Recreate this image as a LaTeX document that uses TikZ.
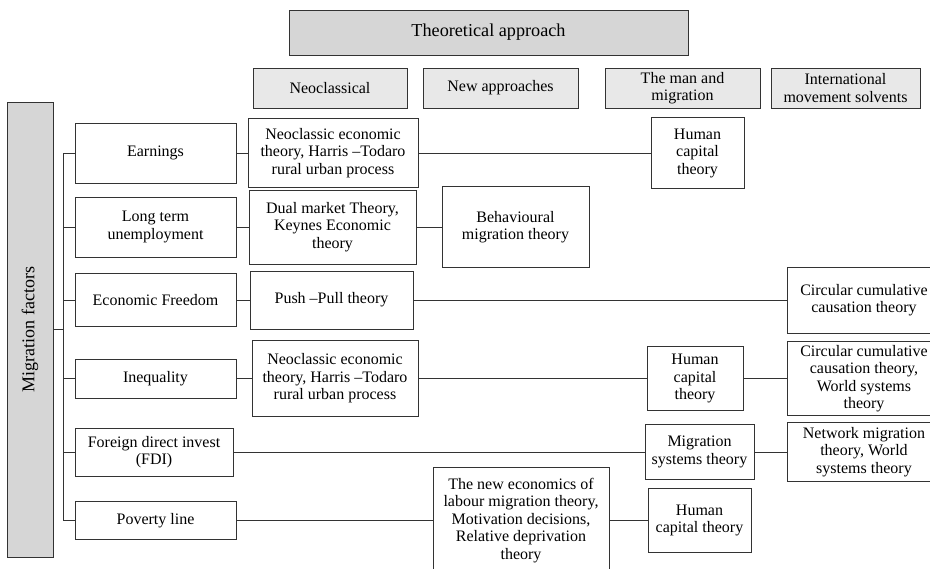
\documentclass[tikz,border=0pt]{standalone}
\usepackage{fontspec}
\setmainfont{Liberation Serif}
\begin{document}
\begin{tikzpicture}[x=1pt,y=-1pt]
\tikzset{
  bx/.style={draw=black!80, line width=0.8pt, fill=white, align=center, inner sep=1pt, text=black, font=\fontsize{16}{17.5}\selectfont},
  hd/.style={bx, fill=gray!18},
  dk/.style={bx, fill=gray!32},
  ln/.style={draw=black!80, line width=0.8pt}
}
\useasboundingbox (0,0) rectangle (930,569);
% headers
\node[dk, minimum width=399pt, minimum height=45pt, font=\fontsize{18.2}{20}\selectfont] (theo) at (488.5,32.5) {Theoretical approach};
\node[hd, minimum width=154pt, minimum height=40pt] (h1) at (330,88) {Neoclassical};
\node[hd, minimum width=155pt, minimum height=40pt] (h2) at (500.5,88) {New approaches};
\node[hd, minimum width=155pt, minimum height=40pt] (h3) at (682.5,88) {The man and\\migration};
\node[hd, minimum width=149pt, minimum height=40pt] (h4) at (845.5,88) {International\\movement solvents};
% left
\node[dk, rotate=90, minimum width=455pt, minimum height=46pt, font=\fontsize{18}{20}\selectfont] (mf) at (30,329.5) {Migration factors};
\node[bx, minimum width=161pt, minimum height=60pt] (earn) at (155.5,153) {Earnings};
\node[bx, minimum width=161pt, minimum height=60pt] (lte) at (155.5,227) {Long term\\unemployment};
\node[bx, minimum width=161pt, minimum height=53pt] (ef) at (155.5,300) {Economic Freedom};
\node[bx, minimum width=161pt, minimum height=39pt] (ineq) at (155.5,378.5) {Inequality};
\node[bx, minimum width=158pt, minimum height=48pt] (fdi) at (154,452) {Foreign direct invest\\(FDI)};
\node[bx, minimum width=161pt, minimum height=38pt] (pov) at (155.5,520.5) {Poverty line};
% neoclassical column
\node[bx, minimum width=170pt, minimum height=69pt] (neo1) at (333,153) {Neoclassic economic\\theory, Harris --Todaro\\rural urban process};
\node[bx, minimum width=167pt, minimum height=74pt] (dual) at (332.5,227) {Dual market Theory,\\Keynes Economic\\theory};
\node[bx, minimum width=163pt, minimum height=58pt] (push) at (331.5,300) {Push --Pull theory};
\node[bx, minimum width=166pt, minimum height=76pt] (neo2) at (335,378.5) {Neoclassic economic\\theory, Harris --Todaro\\rural urban process};
% new approaches column
\node[bx, minimum width=147pt, minimum height=81pt] (beh) at (515.5,227) {Behavioural\\migration theory};
\node[bx, minimum width=176pt, minimum height=106pt] (neweco) at (521,520.5) {The new economics of\\labour migration theory,\\Motivation decisions,\\Relative deprivation\\theory};
% man and migration column
\node[bx, minimum width=93pt, minimum height=71pt] (hc1) at (697.5,153) {Human\\capital\\theory};
\node[bx, minimum width=96pt, minimum height=64pt] (hc2) at (695,378.5) {Human\\capital\\theory};
\node[bx, minimum width=109pt, minimum height=55pt] (mst) at (699.5,452) {Migration\\systems theory};
\node[bx, minimum width=103pt, minimum height=64pt] (hc3) at (699.5,520.5) {Human\\capital theory};
% international column
\node[bx, minimum width=154pt, minimum height=66pt] (circ1) at (864,300) {Circular cumulative\\causation theory};
\node[bx, minimum width=154pt, minimum height=74pt] (circ2) at (864,378.5) {Circular cumulative\\causation theory,\\World systems\\theory};
\node[bx, minimum width=154pt, minimum height=59pt] (net) at (864,452) {Network migration\\theory, World\\systems theory};
% trunk
\coordinate (ttop) at (63,153);
\coordinate (tbot) at (63,520.5);
\draw[ln] (mf.south) -- (mf.south -| ttop);
\draw[ln] (earn.west) -- (ttop) -- (tbot) -- (pov.west);
\draw[ln] (lte.west) -- (lte.west -| ttop);
\draw[ln] (ef.west) -- (ef.west -| ttop);
\draw[ln] (ineq.west) -- (ineq.west -| ttop);
\draw[ln] (fdi.west) -- (fdi.west -| ttop);
% rows
\draw[ln] (earn) -- (neo1);
\draw[ln] (neo1) -- (hc1);
\draw[ln] (lte) -- (dual);
\draw[ln] (dual) -- (beh);
\draw[ln] (ef) -- (push);
\draw[ln] (push) -- (circ1);
\draw[ln] (ineq) -- (neo2);
\draw[ln] (neo2) -- (hc2);
\draw[ln] (hc2) -- (circ2);
\draw[ln] (fdi) -- (mst);
\draw[ln] (mst) -- (net);
\draw[ln] (pov) -- (neweco);
\draw[ln] (neweco) -- (hc3);
\end{tikzpicture}
\end{document}
